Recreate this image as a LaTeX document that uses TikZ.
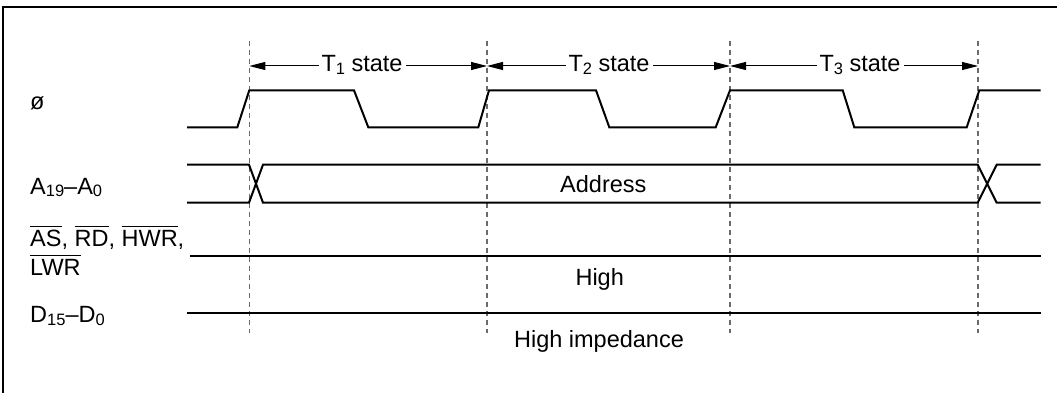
\documentclass[tikz,border=0pt]{standalone}
\usepackage{fontspec}
\setmainfont{Liberation Sans}
\usetikzlibrary{arrows.meta}
\newcommand\lsub[1]{\raisebox{-2.5pt}{\fontsize{16.5}{18}\selectfont #1}}
\newcommand\ovl[1]{\leavevmode\vbox{\hrule height 1.2pt depth 0pt\kern 3.5pt\hbox{#1}}}
\begin{document}
\begin{tikzpicture}[x=1pt,y=-1pt,
  txt/.style={font=\fontsize{23.5}{29}\selectfont, inner sep=0pt},
  wave/.style={line width=2pt, line join=miter},
  guide/.style={draw=black!58, line width=1.3pt, dash pattern=on 5pt off 4pt},
  span/.style={line width=1pt, {Triangle[length=16pt,width=8pt]}-{Triangle[length=16pt,width=8pt]}},
  frame/.style={line width=2pt}]
\useasboundingbox (0,0) rectangle (1057,393);
\fill[white] (0,0) rectangle (1057,393);
% frame
\draw[frame] (3,393) -- (3,7) -- (1057,7);
% guide coordinates
\coordinate (atop) at (249.3,40.7); \coordinate (abot) at (249.3,333); \coordinate (aarr) at (249.3,66);
\coordinate (btop) at (487,40.7);   \coordinate (bbot) at (487,333);   \coordinate (barr) at (487,66);
\coordinate (ctop) at (730,40.7);   \coordinate (cbot) at (730,333);   \coordinate (carr) at (730,66);
\coordinate (dtop) at (978,40.7);   \coordinate (dbot) at (978,333);   \coordinate (darr) at (978,66);
\draw[guide] (atop) -- (abot);
\draw[guide] (btop) -- (bbot);
\draw[guide] (ctop) -- (cbot);
\draw[guide] (dtop) -- (dbot);
% state arrows
\draw[span] (aarr) -- (barr);
\draw[span] (barr) -- (carr);
\draw[span] (carr) -- (darr);
\node[txt, fill=white, inner xsep=3pt, anchor=base] (t1) at (362,71.7) {T\lsub{1} state};
\node[txt, fill=white, inner xsep=3pt, anchor=base] (t2) at (609,71.7) {T\lsub{2} state};
\node[txt, fill=white, inner xsep=3pt, anchor=base] (t3) at (860,71.7) {T\lsub{3} state};
% clock
\draw[wave] (187,127.3) -- (237.3,127.3) -- (249.3,90.3) -- (354,90.3) -- (368.3,127.3)
  -- (478.3,127.3) -- (489,90.3) -- (596,90.3) -- (609.3,127.3) -- (715.7,127.3)
  -- (730,90.3) -- (842.7,90.3) -- (854.3,127.3) -- (966.7,127.3) -- (979.3,90.3) -- (1040.7,90.3);
% address bus
\draw[wave] (187,164.7) -- (249,164.7) -- (263,202.7) -- (977.7,202.7) -- (996.7,164.7) -- (1040.7,164.7);
\draw[wave] (187,202.7) -- (249,202.7) -- (263,164.7) -- (977.7,164.7) -- (996.7,202.7) -- (1040.7,202.7);
% control and data lines
\draw[wave] (190,256) -- (1040.7,256);
\draw[wave] (187,313.3) -- (1040.7,313.3);
% labels
\node[txt, anchor=base west] (phi) at (30,110) {ø};
\node[txt, anchor=base west] (addr) at (30,194) {A\lsub{19}–A\lsub{0}};
\node[txt, anchor=base west] (ctl1) at (30,246.7) {\ovl{AS}, \ovl{RD}, \ovl{HWR},};
\node[txt, anchor=base west] (ctl2) at (30,275.7) {\ovl{LWR}};
\node[txt, anchor=base west] (data) at (30,322.5) {D\lsub{15}–D\lsub{0}};
\node[txt, anchor=base] (address) at (603.3,192) {Address};
\node[txt, anchor=base] (high) at (599.7,285.7) {High};
\node[txt, anchor=base] (hiz) at (599,347.3) {High impedance};
\end{tikzpicture}
\end{document}
